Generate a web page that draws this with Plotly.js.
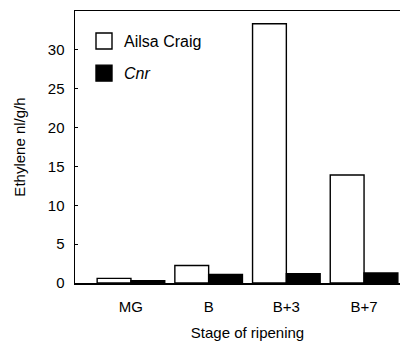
<!DOCTYPE html>
<html>
<head>
<meta charset="utf-8">
<script src="https://cdn.plot.ly/plotly-3.0.1.min.js"></script>
<style>
html,body{margin:0;padding:0;overflow:hidden;background:#fff;width:400px;height:341px;}
#chart{width:420px;height:341px;}
</style>
</head>
<body>
<div id="chart"></div>
<script>
const stages = ["MG", "B", "B+3", "B+7"];
const ailsaCraig = [0.6, 2.25, 33.35, 13.9];
const cnr = [0.3, 1.1, 1.2, 1.3];
const seriesNames = ["Ailsa Craig", "<i>Cnr</i>"];
const yTicks = [0, 5, 10, 15, 20, 25, 30];

const font = "Liberation Sans, Arial, Helvetica, sans-serif";

const traces = [
  {type: "bar", x: stages, y: ailsaCraig, name: seriesNames[0],
   marker: {color: "#ffffff", line: {color: "#000", width: 1.4}}, showlegend: false},
  {type: "bar", x: stages, y: cnr, name: seriesNames[1],
   marker: {color: "#000000", line: {color: "#000", width: 1.4}}, showlegend: false}
];

const layout = {
  width: 420, height: 341,
  margin: {l: 75, r: 0, t: 11, b: 58},
  paper_bgcolor: "#fff", plot_bgcolor: "#fff",
  font: {family: font, size: 15, color: "#000"},
  barmode: "group", bargap: 0.13, bargroupgap: 0,
  xaxis: {
    type: "category", range: [-0.72, 3.72],
    showline: true, linecolor: "#000", linewidth: 1.5, mirror: true,
    ticks: "", showgrid: false, zeroline: false,
    tickfont: {size: 15}, ticklabelstandoff: 9,
    title: {text: "Stage of ripening", font: {size: 15}, standoff: 19}
  },
  yaxis: {
    range: [0, 35], tickvals: yTicks, ticktext: yTicks.map(String),
    showline: true, linecolor: "#000", linewidth: 1.5,
    ticks: "inside", ticklen: 3, tickwidth: 1.2, tickcolor: "#000",
    showgrid: false, zeroline: false,
    tickfont: {size: 15}, ticklabelstandoff: 6,
    title: {text: "Ethylene nl/g/h", font: {size: 15}, standoff: 18}
  },
  shapes: [
    {type: "rect", xref: "paper", yref: "paper", x0: 21/345, x1: 37/345,
     y0: 1 - 38/271.5, y1: 1 - 22/271.5, fillcolor: "#fff", line: {color: "#000", width: 1.4}},
    {type: "rect", xref: "paper", yref: "paper", x0: 21/345, x1: 37/345,
     y0: 1 - 70/271.5, y1: 1 - 54/271.5, fillcolor: "#000", line: {color: "#000", width: 1.4}}
  ],
  annotations: [
    {xref: "paper", yref: "paper", x: 47/345, y: 1 - 30/271.5, xanchor: "left", yanchor: "middle",
     text: seriesNames[0], showarrow: false, font: {size: 16}},
    {xref: "paper", yref: "paper", x: 47/345, y: 1 - 62/271.5, xanchor: "left", yanchor: "middle",
     text: seriesNames[1], showarrow: false, font: {size: 16}}
  ]
};

Plotly.newPlot("chart", traces, layout, {displayModeBar: false, staticPlot: true});
</script>
</body>
</html>
